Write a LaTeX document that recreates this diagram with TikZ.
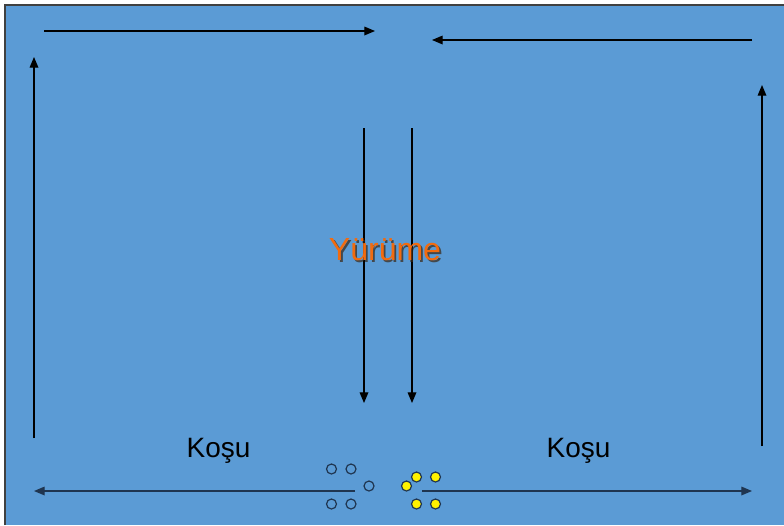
\documentclass[tikz,border=0pt]{standalone}
\usepackage{fontspec}
\setmainfont{Liberation Sans}
\usetikzlibrary{arrows.meta}
\definecolor{field}{HTML}{5B9BD5}
\definecolor{runline}{HTML}{1F3550}
\definecolor{walkorange}{HTML}{F26B0F}
\definecolor{team}{HTML}{FFF200}
\tikzset{
  lap/.style={line width=0.9pt,-{Triangle[length=8pt,width=6.5pt]}},
  lapdark/.style={lap,draw=runline},
  player/.style={circle,draw=runline,line width=0.9pt,minimum size=7.5pt,inner sep=0,fill=field},
  playery/.style={player,fill=team},
  label/.style={font=\fontsize{21}{25}\selectfont,inner sep=0},
  biglabel/.style={font=\fontsize{24}{28}\selectfont,inner sep=0}
}
\begin{document}
\begin{tikzpicture}[x=0.75pt,y=-0.75pt]
\useasboundingbox (0,0) rectangle (784,525);
% Field
\fill[field] (5,5) rectangle (784,525);
\draw[line width=1.2pt,draw=black!75] (5,525) -- (5,5) -- (784,5);
% Corners of the laps
\coordinate (tl1) at (44,31);  \coordinate (tl2) at (375,31);
\coordinate (tr1) at (752,40); \coordinate (tr2) at (432,40);
\coordinate (l1) at (34,438);  \coordinate (l2) at (34,57);
\coordinate (r1) at (762,446); \coordinate (r2) at (762,85);
\coordinate (m1a) at (364,128); \coordinate (m1b) at (364,403);
\coordinate (m2a) at (412,128); \coordinate (m2b) at (412,403);
\coordinate (bl1) at (355,491); \coordinate (bl2) at (34,491);
\coordinate (br1) at (422,491); \coordinate (br2) at (752,491);
% Laps
\draw[lap] (tl1) -- (tl2);
\draw[lap] (tr1) -- (tr2);
\draw[lap] (l1) -- (l2);
\draw[lap] (r1) -- (r2);
\draw[lap] (m1a) -- (m1b);
\draw[lap] (m2a) -- (m2b);
\draw[lapdark] (bl1) -- (bl2);
\draw[lapdark] (br1) -- (br2);
% Texts
\node[biglabel,text=black!70!brown,opacity=0.7] (walkshadow) at (386.8,251.8) {Yürüme};
\node[biglabel,text=walkorange] (walk) at (385,250) {Yürüme};
\node[label] (run1) at (218.5,451) {Koşu};
\node[label] (run2) at (578.5,451) {Koşu};
% Players
\node[player] (p1) at (331.5,469) {};
\node[player] (p2) at (351,469) {};
\node[player] (p3) at (369,486) {};
\node[player] (p4) at (331.5,504) {};
\node[player] (p5) at (351,504) {};
\node[playery] (y1) at (416.5,477) {};
\node[playery] (y2) at (435.5,477) {};
\node[playery] (y3) at (406.5,486) {};
\node[playery] (y4) at (416.5,504) {};
\node[playery] (y5) at (435.5,504) {};
\end{tikzpicture}
\end{document}
